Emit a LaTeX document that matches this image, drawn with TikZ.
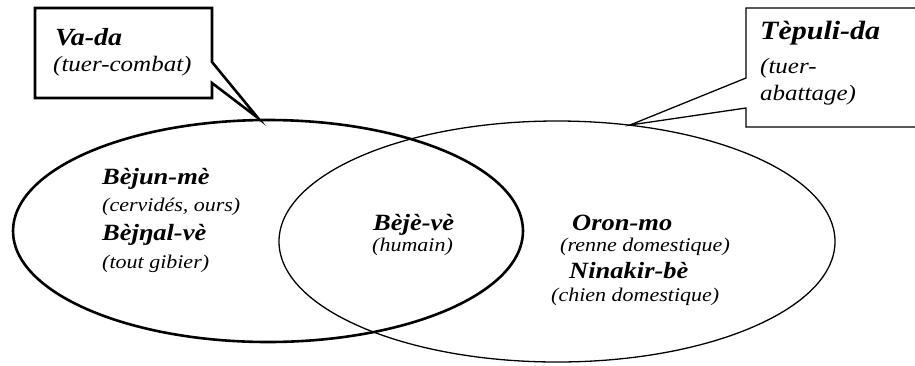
\documentclass[tikz,border=0pt]{standalone}
\usepackage{fontspec}
\setmainfont{Liberation Serif}
\newcommand{\sqz}[1]{\scalebox{1}[0.88]{#1}}
\begin{document}
\begin{tikzpicture}[x=1pt,y=-1pt,
  thickline/.style={line width=2.6pt,line join=miter},
  thinline/.style={line width=1.3pt,line join=miter},
  ttl/.style={anchor=base west,inner sep=0pt,font=\fontsize{26.5}{30}\selectfont\bfseries\itshape},
  sub/.style={anchor=base west,inner sep=0pt,font=\fontsize{22}{26}\selectfont\itshape},
  bttl/.style={ttl,font=\fontsize{28}{32}\selectfont\bfseries\itshape},
  bsub/.style={sub,font=\fontsize{25}{29}\selectfont\itshape}]
\useasboundingbox (0,0) rectangle (915,365);
% ellipses
\draw[thinline] (557,241.5) ellipse [x radius=278, y radius=120.5];
\draw[thickline] (268,231) ellipse [x radius=255, y radius=111];
% callouts
\coordinate (tipL) at (258,118);
\coordinate (tipR) at (630,125);
\draw[thickline,fill=white] (35,8) -- (212,8) -- (212,62) -- (tipL) -- (212,83) -- (212,98) -- (35,98) -- cycle;
\draw[thinline,fill=white] (746,78) -- (746,8) -- (925,8) -- (925,127) -- (746,127) -- (746,108) -- (tipR) -- cycle;
% texts
\node[bttl] (vada) at (55,45) {\sqz{Va-da}};
\node[bsub] (vadas) at (53,71) {\sqz{(tuer-combat)}};
\node[bttl,font=\fontsize{30}{34}\selectfont\bfseries\itshape] (tep) at (760,39) {\sqz{Tèpuli-da}};
\node[bsub] (teps1) at (760,73) {\sqz{(tuer-}};
\node[bsub] (teps2) at (760,100) {\sqz{abattage)}};
\node[ttl] (bjm) at (102,184) {\sqz{Bèjun-mè}};
\node[sub] (bjms) at (102,211) {\sqz{(cervidés, ours)}};
\node[ttl] (bjv) at (102,240) {\sqz{Bèjŋal-vè}};
\node[sub] (bjvs) at (102,268) {\sqz{(tout gibier)}};
\node[ttl] (bjj) at (373,230) {\sqz{Bèjè-vè}};
\node[sub] (bjjs) at (372,251) {\sqz{(humain)}};
\node[ttl] (oron) at (572,230) {\sqz{Oron-mo}};
\node[sub] (orons) at (560,251) {\sqz{(renne domestique)}};
\node[ttl] (nin) at (569,278) {\sqz{Ninakir-bè}};
\node[sub] (nins) at (551,301) {\sqz{(chien domestique)}};
\end{tikzpicture}
\end{document}
